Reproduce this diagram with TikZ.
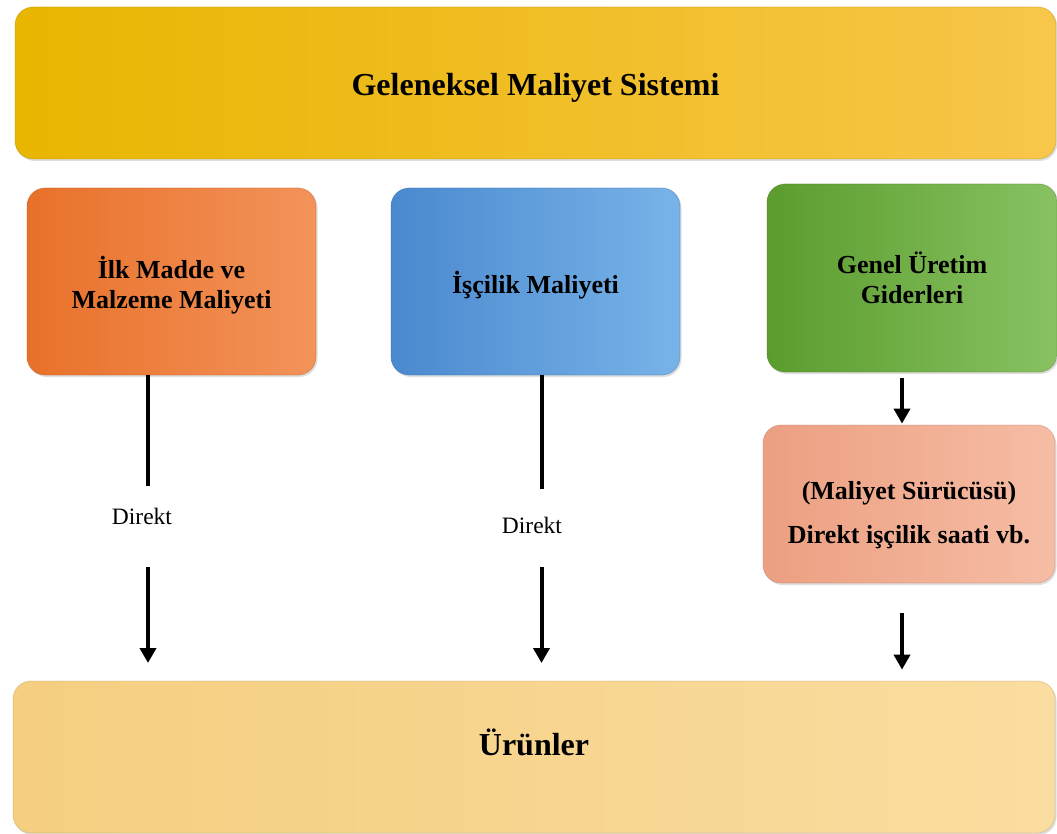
\documentclass[tikz,border=0pt]{standalone}
\usepackage{fontspec}
\setmainfont{Liberation Serif}
\usetikzlibrary{shadows,arrows.meta}
\definecolor{yelL}{HTML}{E8B600}
\definecolor{yelM}{HTML}{FCC600}
\definecolor{yelR}{HTML}{F8C64A}
\definecolor{orL}{HTML}{E8712A}
\definecolor{orM}{HTML}{EE7F34}
\definecolor{orR}{HTML}{F3935A}
\definecolor{blL}{HTML}{4A89CF}
\definecolor{blM}{HTML}{5A9BD8}
\definecolor{blR}{HTML}{78B3E8}
\definecolor{grL}{HTML}{5B9C2E}
\definecolor{grM}{HTML}{6EAE42}
\definecolor{grR}{HTML}{88C262}
\definecolor{peL}{HTML}{EC9F81}
\definecolor{peM}{HTML}{F2AE93}
\definecolor{peR}{HTML}{F6BDA5}
\definecolor{boL}{HTML}{F5CE80}
\definecolor{boM}{HTML}{F8D690}
\definecolor{boR}{HTML}{FADDA0}
\tikzset{
  glossbox/.style n args={3}{rounded corners=18pt, inner sep=0pt,
    left color=#1, middle color=#2, right color=#3,
    draw=#1!75!black, draw opacity=0.35, line width=0.8pt,
    drop shadow={opacity=0.25, shadow xshift=1.5pt, shadow yshift=-2pt}},
  boxtext/.style={align=center, text=black, inner sep=0pt, font=\fontsize{26}{30}\selectfont\bfseries},
  titletext/.style={align=center, text=black, inner sep=0pt, font=\fontsize{32}{36}\selectfont\bfseries},
  conn/.style={line width=4pt, black},
  arr/.style={line width=4pt, black, -{Triangle[width=16pt,length=15pt]}},
  lbl/.style={font=\fontsize{23.5}{26}\selectfont, inner sep=0pt}
}
\begin{document}
\begin{tikzpicture}[x=1pt,y=-1pt]
\useasboundingbox (0,0) rectangle (1057,834);
% boxes
\node[glossbox={yelL}{yelM}{yelR}, minimum width=1041pt, minimum height=152pt] (top) at (535.5,83) {};
\node[glossbox={orL}{orM}{orR}, minimum width=289pt, minimum height=187pt] (orange) at (171.5,281.5) {};
\node[glossbox={blL}{blM}{blR}, minimum width=289pt, minimum height=187pt] (blue) at (535.5,281.5) {};
\node[glossbox={grL}{grM}{grR}, minimum width=290pt, minimum height=188pt] (green) at (912,278) {};
\node[glossbox={peL}{peM}{peR}, minimum width=292pt, minimum height=158pt] (peach) at (909,504) {};
\node[glossbox={boL}{boM}{boR}, minimum width=1042pt, minimum height=152pt] (bottom) at (534,757) {};
% box texts
\node[titletext] (toptext) at ([yshift=-5pt]top.center) {Geleneksel Maliyet Sistemi};
\node[boxtext] (orangetext) at ([yshift=-4pt]orange.center) {İlk Madde ve\\Malzeme Maliyeti};
\node[boxtext] (bluetext) at ([yshift=-4pt]blue.center) {İşçilik Maliyeti};
\node[boxtext] (greentext) at ([yshift=0pt]green.center) {Genel Üretim\\Giderleri};
\node[boxtext, font=\fontsize{26}{44}\selectfont\bfseries] (peachtext) at ([yshift=-11pt]peach.center) {(Maliyet Sürücüsü)\\Direkt işçilik saati vb.};
\node[titletext] (bottomtext) at ([yshift=15pt]bottom.center) {Ürünler};
% labels
\node[lbl] (d1) at (142,516) {Direkt};
\node[lbl] (d2) at (532,525) {Direkt};
% coordinates
\coordinate (l1) at (148,486);
\coordinate (l2) at (148,567);
\coordinate (l3) at (148,663);
\coordinate (m1) at (541.5,489);
\coordinate (m2) at (541.5,567);
\coordinate (m3) at (541.5,663);
\coordinate (r0) at (902,0);
% connectors
\draw[conn] (orange.south -| l1) -- (l1);
\draw[arr] (l2) -- (l3);
\draw[conn] (blue.south -| m1) -- (m1);
\draw[arr] (m2) -- (m3);
\draw[arr, shorten <=6pt, shorten >=1pt] (green.south -| r0) -- (peach.north -| r0);
\draw[arr, shorten <=30pt, shorten >=11pt] (peach.south -| r0) -- (bottom.north -| r0);
\end{tikzpicture}
\end{document}
